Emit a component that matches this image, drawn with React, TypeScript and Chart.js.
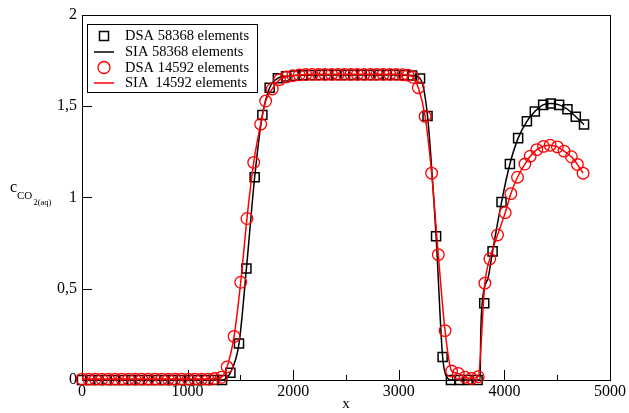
import React, { useEffect, useRef } from 'react';
import { Chart, registerables } from 'chart.js';

Chart.register(...registerables);

// ---- Data ----
const dsaFineX = [0, 78, 156, 234, 312, 390, 468, 546, 624, 702, 780, 858, 936, 1014, 1092, 1170, 1248, 1326,
  1405, 1487, 1557, 1635, 1708, 1777, 1855,
  1933, 2013, 2092, 2172, 2251, 2331, 2410, 2490, 2569, 2649, 2728, 2808, 2887, 2967, 3046, 3126,
  3201, 3272, 3353, 3415,
  3494, 3573, 3651, 3746,
  3809, 3888, 3973, 4052, 4130, 4213, 4288, 4367, 4439, 4518, 4597, 4676, 4754];
const dsaFineY = [0, 0, 0, 0, 0, 0, 0, 0, 0, 0, 0, 0, 0, 0, 0, 0, 0, 0,
  0.04, 0.2, 0.61, 1.11, 1.45, 1.6, 1.652,
  1.662, 1.666, 1.668, 1.669, 1.67, 1.67, 1.67, 1.67, 1.67, 1.67, 1.67, 1.67, 1.67, 1.67, 1.669, 1.667,
  1.65, 1.445, 0.787, 0.126,
  0, 0, 0, 0,
  0.42, 0.704, 0.974, 1.182, 1.324, 1.416, 1.47, 1.506, 1.513, 1.506, 1.482, 1.441, 1.398];

const siaFineX = [0, 500, 1000, 1326, 1405, 1487, 1557, 1635, 1708, 1777, 1855, 1933, 2013, 2092, 2172, 2251,
  2600, 3000, 3126, 3201, 3272, 3353, 3415, 3462, 3494, 3573, 3651, 3746, 3770, 3776, 3790, 3850, 3888,
  3973, 4052, 4130, 4213, 4288, 4367, 4439, 4518, 4597, 4676, 4754];
const siaFineY = [0, 0, 0, 0, 0.04, 0.2, 0.61, 1.11, 1.45, 1.6, 1.652, 1.662, 1.666, 1.668, 1.669, 1.67,
  1.67, 1.67, 1.667, 1.65, 1.445, 0.787, 0.126, 0.01, 0, 0, 0, 0, 0, 0.25, 0.42, 0.57, 0.704,
  0.974, 1.182, 1.324, 1.416, 1.47, 1.506, 1.513, 1.506, 1.482, 1.441, 1.398];

const dsaCoarseX = [0, 63, 126, 189, 251, 314, 377, 440, 503, 566, 629, 691, 754, 817, 880, 943, 1006, 1069, 1131, 1194, 1257, 1320,
  1374, 1440, 1503, 1562, 1626, 1692, 1739, 1802, 1871,
  1935, 1996, 2057, 2119, 2180, 2241, 2302, 2363, 2425, 2486, 2547, 2608, 2669, 2731, 2792, 2853, 2914, 2975, 3037,
  3088, 3135, 3185, 3249, 3311, 3374, 3438, 3500, 3563, 3627, 3689, 3752,
  3815, 3862, 3935, 4008, 4061, 4124, 4194, 4244, 4307, 4370, 4433, 4502, 4565, 4634, 4691, 4745];
const dsaCoarseY = [0.005, 0.005, 0.005, 0.005, 0.005, 0.005, 0.005, 0.005, 0.005, 0.005, 0.005, 0.005, 0.005, 0.005, 0.005, 0.005, 0.005, 0.005, 0.005, 0.005, 0.008, 0.015,
  0.072, 0.239, 0.535, 0.884, 1.191, 1.4, 1.527, 1.593, 1.644,
  1.659, 1.666, 1.67, 1.672, 1.673, 1.673, 1.673, 1.673, 1.673, 1.673, 1.673, 1.673, 1.673, 1.673, 1.673, 1.673, 1.673, 1.673, 1.671,
  1.668, 1.657, 1.6, 1.443, 1.132, 0.686, 0.27, 0.049, 0.036, 0.015, 0.009, 0.018,
  0.53, 0.663, 0.794, 0.916, 1.02, 1.11, 1.182, 1.225, 1.261, 1.279, 1.285, 1.276, 1.253, 1.222, 1.18, 1.132];

const siaCoarseX = dsaCoarseX;
const siaCoarseY = dsaCoarseY;

const xTicks = [0, 1000, 2000, 3000, 4000, 5000];
const xMinorTicks = [500, 1500, 2500, 3500, 4500];
const yTicks = [0, 0.5, 1, 1.5, 2];

const labels = ['DSA 58368 elements', 'SIA 58368 elements', 'DSA 14592 elements', 'SIA  14592 elements'];

const SERIF = "'Liberation Serif', 'Times New Roman', serif";

const toPts = (xs: number[], ys: number[]) => xs.map((x, i) => ({ x, y: ys[i] }));

const framePlugin = {
  id: 'frame',
  beforeDatasetsDraw(chart: any) {
    const { ctx, chartArea: a, scales } = chart;
    const xs = scales.x, ys = scales.y;
    ctx.save();
    ctx.strokeStyle = '#000';
    ctx.lineWidth = 1;
    ctx.strokeRect(Math.round(a.left) + 0.5, Math.round(a.top) + 0.5, Math.round(a.right - a.left), Math.round(a.bottom - a.top));
    ctx.beginPath();
    xTicks.forEach((v) => {
      const px = Math.round(xs.getPixelForValue(v)) + 0.5;
      ctx.moveTo(px, a.bottom);
      ctx.lineTo(px, a.bottom - 10);
    });
    xMinorTicks.forEach((v) => {
      const px = Math.round(xs.getPixelForValue(v)) + 0.5;
      ctx.moveTo(px, a.bottom);
      ctx.lineTo(px, a.bottom - 5);
    });
    yTicks.forEach((v) => {
      const py = Math.round(ys.getPixelForValue(v)) + 0.5;
      ctx.moveTo(a.left, py);
      ctx.lineTo(a.left + 10, py);
    });
    ctx.stroke();

    // axis titles
    ctx.fillStyle = '#000';
    ctx.textAlign = 'center';
    ctx.textBaseline = 'middle';
    ctx.font = `15px ${SERIF}`;
    ctx.fillText('x', (a.left + a.right) / 2, 404);

    ctx.textAlign = 'left';
    ctx.textBaseline = 'alphabetic';
    ctx.font = `16px ${SERIF}`;
    ctx.fillText('c', 10, 192);
    ctx.font = `11px ${SERIF}`;
    ctx.fillText('CO', 17, 199);
    ctx.font = `8.5px ${SERIF}`;
    ctx.fillText('2(aq)', 33.5, 205);
    ctx.restore();
  },
  afterDraw(chart: any) {
    const { ctx } = chart;
    ctx.save();
    ctx.fillStyle = '#fff';
    ctx.fillRect(87.5, 24.5, 170, 68);
    ctx.strokeStyle = '#000';
    ctx.lineWidth = 1;
    ctx.strokeRect(87.5, 24.5, 170, 68);
    const rows = [36, 52, 67.5, 83];
    const sx = 104;
    ctx.lineWidth = 1.5;
    ctx.strokeStyle = '#000';
    ctx.strokeRect(sx - 4.5, rows[0] - 4.5, 9, 9);
    ctx.beginPath();
    ctx.moveTo(94, rows[1]);
    ctx.lineTo(114, rows[1]);
    ctx.stroke();
    ctx.strokeStyle = '#ff0000';
    ctx.lineWidth = 1.3;
    ctx.beginPath();
    ctx.arc(sx, rows[2], 6, 0, Math.PI * 2);
    ctx.stroke();
    ctx.lineWidth = 1.5;
    ctx.beginPath();
    ctx.moveTo(94, rows[3]);
    ctx.lineTo(114, rows[3]);
    ctx.stroke();

    ctx.fillStyle = '#000';
    ctx.font = `14.5px ${SERIF}`;
    ctx.textAlign = 'left';
    ctx.textBaseline = 'middle';
    labels.forEach((t, i) => ctx.fillText(t, 125, rows[i] + 0.5));
    ctx.restore();
  },
};

export default function App() {
  const ref = useRef<HTMLCanvasElement | null>(null);
  useEffect(() => {
    if (!ref.current) return;
    const chart = new Chart(ref.current, {
      type: 'line',
      data: {
        datasets: [
          {
            label: labels[0],
            data: toPts(dsaFineX, dsaFineY),
            showLine: false,
            pointStyle: 'rect',
            pointRadius: 6.4,
            pointBorderWidth: 1.5,
            pointBorderColor: '#000',
            pointBackgroundColor: 'rgba(0,0,0,0)',
            order: 4,
            clip: false,
          },
          {
            label: labels[1],
            data: toPts(siaFineX, siaFineY),
            borderColor: '#000',
            borderWidth: 1.5,
            pointRadius: 0,
            cubicInterpolationMode: 'monotone',
            order: 3,
            clip: false,
          },
          {
            label: labels[2],
            data: toPts(dsaCoarseX, dsaCoarseY),
            showLine: false,
            pointStyle: 'circle',
            pointRadius: 5.8,
            pointBorderWidth: 1.3,
            pointBorderColor: '#ff0000',
            pointBackgroundColor: 'rgba(0,0,0,0)',
            order: 2,
            clip: false,
          },
          {
            label: labels[3],
            data: toPts(siaCoarseX, siaCoarseY),
            borderColor: '#ff0000',
            borderWidth: 1.5,
            pointRadius: 0,
            cubicInterpolationMode: 'monotone',
            order: 1,
            clip: false,
          },
        ] as any,
      },
      options: {
        animation: false,
        responsive: false,
        devicePixelRatio: 1,
        layout: { padding: { top: 9, right: 19, left: 0, bottom: 0 } },
        plugins: { legend: { display: false }, tooltip: { enabled: false } },
        scales: {
          x: {
            type: 'linear',
            min: 0,
            max: 5000,
            afterFit: (s: any) => { s.height = 33; },
            afterBuildTicks: (s: any) => { s.ticks = xTicks.map((v) => ({ value: v })); },
            ticks: {
              font: { family: SERIF, size: 16 },
              color: '#000',
              padding: 2,
              maxRotation: 0,
              callback: (v: any) => String(v),
            },
            grid: { display: false, drawTicks: false },
            border: { display: false },
          },
          y: {
            type: 'linear',
            min: 0,
            max: 2,
            afterFit: (s: any) => { s.width = 82; },
            afterBuildTicks: (s: any) => { s.ticks = yTicks.map((v) => ({ value: v })); },
            ticks: {
              font: { family: SERIF, size: 16 },
              color: '#000',
              padding: 5,
              callback: (v: any) => String(v).replace('.', ','),
            },
            grid: { display: false, drawTicks: false },
            border: { display: false },
          },
        },
      } as any,
      plugins: [framePlugin],
    });
    return () => chart.destroy();
  }, []);
  return (
    <div style={{ position: 'fixed', left: 0, top: 0, width: 629, height: 413, background: '#fff' }}>
      <canvas ref={ref} width={629} height={413} style={{ display: 'block' }} />
    </div>
  );
}
